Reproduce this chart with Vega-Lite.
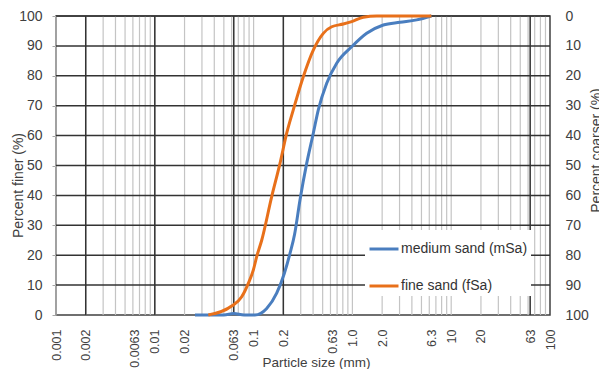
{
  "$schema": "https://vega.github.io/schema/vega-lite/v6.json",
  "width": 494,
  "height": 299,
  "autosize": {"type": "none"},
  "padding": {"left": 56, "top": 16, "right": 49, "bottom": 54},
  "background": "white",
  "config": {
    "view": {"stroke": "#404040", "strokeWidth": 1.5},
    "font": "Liberation Sans",
    "axis": {
      "grid": false,
      "domain": false,
      "labelFont": "Liberation Sans",
      "labelColor": "#404040",
      "titleFont": "Liberation Sans",
      "titleFontWeight": "normal",
      "titleColor": "#404040"
    }
  },
  "datasets": {
    "minor": [
      {"size": 0.001}, {"size": 0.002}, {"size": 0.003}, {"size": 0.004}, {"size": 0.005}, {"size": 0.006}, {"size": 0.007}, {"size": 0.008}, {"size": 0.009},
      {"size": 0.01}, {"size": 0.02}, {"size": 0.03}, {"size": 0.04}, {"size": 0.05}, {"size": 0.06}, {"size": 0.07}, {"size": 0.08}, {"size": 0.09},
      {"size": 0.1}, {"size": 0.2}, {"size": 0.3}, {"size": 0.4}, {"size": 0.5}, {"size": 0.6}, {"size": 0.7}, {"size": 0.8}, {"size": 0.9},
      {"size": 1}, {"size": 2}, {"size": 3}, {"size": 4}, {"size": 5}, {"size": 6}, {"size": 7}, {"size": 8}, {"size": 9},
      {"size": 10}, {"size": 20}, {"size": 30}, {"size": 40}, {"size": 50}, {"size": 60}, {"size": 70}, {"size": 80}, {"size": 90}
    ],
    "major": [
      {"size": 0.002}, {"size": 0.01}, {"size": 0.063}, {"size": 0.2}, {"size": 63}
    ],
    "hgrid": [
      {"pct": 10}, {"pct": 20}, {"pct": 30}, {"pct": 40}, {"pct": 50}, {"pct": 60}, {"pct": 70}, {"pct": 80}, {"pct": 90}, {"pct": 100}
    ],
    "curves": [
      {"series": "medium sand (mSa)", "size": 0.0255, "pct": 0},
      {"series": "medium sand (mSa)", "size": 0.05, "pct": 0},
      {"series": "medium sand (mSa)", "size": 0.063, "pct": 0.5},
      {"series": "medium sand (mSa)", "size": 0.08, "pct": 0},
      {"series": "medium sand (mSa)", "size": 0.103, "pct": 0},
      {"series": "medium sand (mSa)", "size": 0.1357, "pct": 2.2},
      {"series": "medium sand (mSa)", "size": 0.1713, "pct": 7.3},
      {"series": "medium sand (mSa)", "size": 0.2045, "pct": 13.9},
      {"series": "medium sand (mSa)", "size": 0.2336, "pct": 20.6},
      {"series": "medium sand (mSa)", "size": 0.26, "pct": 27},
      {"series": "medium sand (mSa)", "size": 0.2948, "pct": 38.5},
      {"series": "medium sand (mSa)", "size": 0.3446, "pct": 50.7},
      {"series": "medium sand (mSa)", "size": 0.402, "pct": 60.8},
      {"series": "medium sand (mSa)", "size": 0.4518, "pct": 68.6},
      {"series": "medium sand (mSa)", "size": 0.5495, "pct": 77.5},
      {"series": "medium sand (mSa)", "size": 0.6937, "pct": 84.2},
      {"series": "medium sand (mSa)", "size": 0.984, "pct": 89.7},
      {"series": "medium sand (mSa)", "size": 1.395, "pct": 94.2},
      {"series": "medium sand (mSa)", "size": 2.055, "pct": 97},
      {"series": "medium sand (mSa)", "size": 3.03, "pct": 97.9},
      {"series": "medium sand (mSa)", "size": 4.475, "pct": 98.7},
      {"series": "medium sand (mSa)", "size": 6.3, "pct": 100},
      {"series": "fine sand (fSa)", "size": 0.0348, "pct": 0},
      {"series": "fine sand (fSa)", "size": 0.06, "pct": 3},
      {"series": "fine sand (fSa)", "size": 0.0758, "pct": 6.1},
      {"series": "fine sand (fSa)", "size": 0.0884, "pct": 10.6},
      {"series": "fine sand (fSa)", "size": 0.0993, "pct": 15},
      {"series": "fine sand (fSa)", "size": 0.1075, "pct": 19.5},
      {"series": "fine sand (fSa)", "size": 0.1208, "pct": 25},
      {"series": "fine sand (fSa)", "size": 0.1525, "pct": 39.6},
      {"series": "fine sand (fSa)", "size": 0.185, "pct": 50.7},
      {"series": "fine sand (fSa)", "size": 0.2163, "pct": 60.8},
      {"series": "fine sand (fSa)", "size": 0.2522, "pct": 68.6},
      {"series": "fine sand (fSa)", "size": 0.3184, "pct": 79.7},
      {"series": "fine sand (fSa)", "size": 0.402, "pct": 88.6},
      {"series": "fine sand (fSa)", "size": 0.5075, "pct": 94.2},
      {"series": "fine sand (fSa)", "size": 0.6173, "pct": 96.4},
      {"series": "fine sand (fSa)", "size": 0.809, "pct": 97.3},
      {"series": "fine sand (fSa)", "size": 0.984, "pct": 98.1},
      {"series": "fine sand (fSa)", "size": 1.289, "pct": 99.6},
      {"series": "fine sand (fSa)", "size": 1.762, "pct": 100},
      {"series": "fine sand (fSa)", "size": 6.3, "pct": 100}
    ]
  },
  "layer": [
    {
      "data": {"name": "minor"},
      "mark": {"type": "rule", "color": "#c4c4c4", "strokeWidth": 1.2},
      "encoding": {
        "x": {"field": "size", "type": "quantitative", "scale": {"type": "log", "domain": [0.001, 100], "nice": false}, "title": "Particle size (mm)"}
      }
    },
    {
      "data": {"name": "major"},
      "mark": {"type": "rule", "color": "#333333", "strokeWidth": 1.5},
      "encoding": {
        "x": {"field": "size", "type": "quantitative", "title": "Particle size (mm)"}
      }
    },
    {
      "data": {"name": "hgrid"},
      "mark": {"type": "rule", "color": "#333333", "strokeWidth": 1.5},
      "encoding": {
        "y": {
          "field": "pct", "type": "quantitative",
          "scale": {"domain": [0, 100], "nice": false},
          "axis": {
            "orient": "right",
            "values": [0, 10, 20, 30, 40, 50, 60, 70, 80, 90, 100],
            "labelExpr": "100 - datum.value",
            "ticks": false,
            "labelPadding": 15,
            "labelAlign": "left",
            "labelFontSize": 14,
            "labelFlush": false,
            "title": "Percent coarser (%)",
            "titleFontSize": 14,
            "titleAngle": -90,
            "titleX": 46,
            "titleY": 134,
            "titleAlign": "center",
            "titleBaseline": "middle"
          }
        }
      }
    },
    {
      "data": {"name": "curves"},
      "mark": {"type": "line", "strokeWidth": 3, "interpolate": "monotone"},
      "encoding": {
        "x": {
          "field": "size", "type": "quantitative", "title": "Particle size (mm)",
          "axis": {
            "values": [0.001, 0.002, 0.0063, 0.01, 0.02, 0.063, 0.1, 0.2, 0.63, 1, 2, 6.3, 10, 20, 63, 100],
            "labelExpr": "datum.value == 1 ? '1.0' : datum.value == 2 ? '2.0' : format(datum.value, '~g')",
            "labelAngle": -90,
            "labelFontSize": 12.5,
            "labelPadding": 14,
            "labelOverlap": false,
            "labelFlush": false,
            "labelBound": false,
            "ticks": false,
            "title": "Particle size (mm)",
            "titleFontSize": 13.5,
            "titleX": 260,
            "titleY": 47,
            "titleAlign": "center",
            "titleBaseline": "middle"
          }
        },
        "y": {
          "field": "pct", "type": "quantitative",
          "axis": {
            "orient": "left",
            "values": [0, 10, 20, 30, 40, 50, 60, 70, 80, 90, 100],
            "ticks": true,
            "tickSize": 4,
            "tickColor": "#a6a6a6",
            "labelPadding": 10,
            "labelFontSize": 14,
            "labelFlush": false,
            "title": "Percent finer (%)",
            "titleFontSize": 14,
            "titleX": -38,
            "titleY": 169,
            "titleAlign": "center",
            "titleBaseline": "middle"
          }
        },
        "color": {
          "field": "series", "type": "nominal",
          "scale": {"domain": ["medium sand (mSa)", "fine sand (fSa)"], "range": ["#4a7ebf", "#e8701a"]},
          "legend": {
            "orient": "none",
            "legendX": 309,
            "legendY": 214,
            "title": null,
            "fillColor": "white",
            "padding": 3,
            "symbolType": "stroke",
            "symbolSize": 841,
            "symbolStrokeWidth": 3,
            "labelFontSize": 14,
            "labelColor": "#333333",
            "labelFont": "Liberation Sans",
            "labelOffset": 1,
            "rowPadding": 14
          }
        }
      }
    }
  ],
  "resolve": {"axis": {"y": "independent"}}
}
